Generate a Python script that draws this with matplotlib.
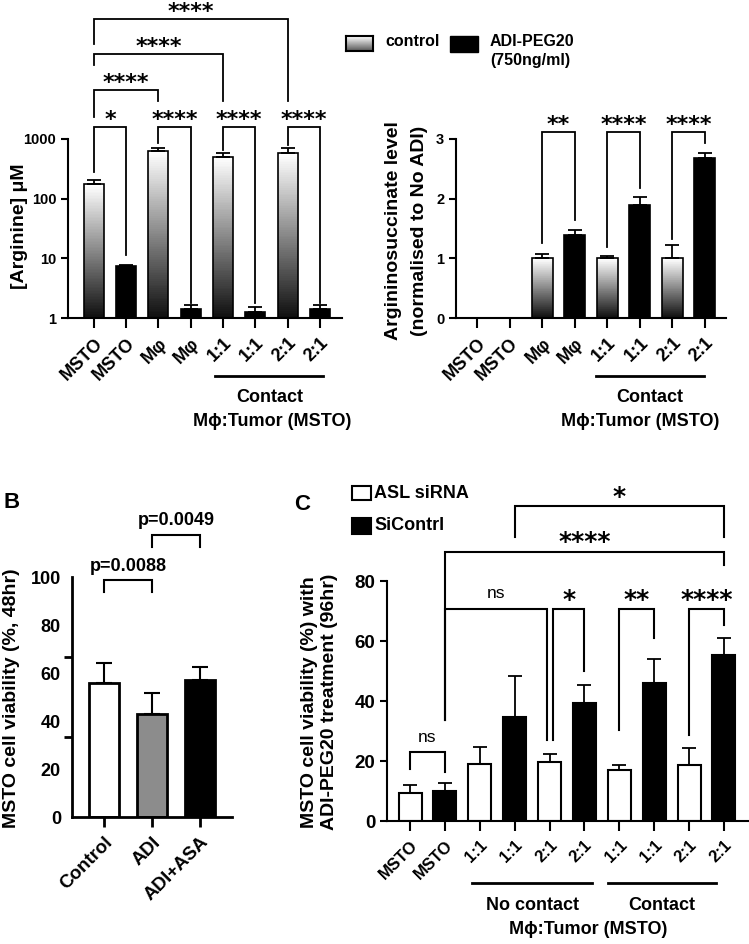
import numpy as np
import matplotlib
matplotlib.use('Agg')
import matplotlib.pyplot as plt
from matplotlib import font_manager
from matplotlib.patches import Rectangle
from matplotlib.lines import Line2D

plt.rcParams['font.family'] = ['Liberation Sans', 'DejaVu Sans']
plt.rcParams['font.weight'] = 'bold'

installed = {f.name for f in font_manager.fontManager.ttflist}
NARROW = 'Liberation Sans Narrow' if 'Liberation Sans Narrow' in installed else 'Liberation Sans'
STAR = 'DejaVu Sans'

W, H = 749, 944

# ---- data ----
# A, left: arginine (uM), control / ADI-PEG20 pairs
arg_labels = ['MSTO', 'MSTO', 'Mφ', 'Mφ', '1:1', '1:1', '2:1', '2:1']
arg_ctrl = [175, 630, 505, 575]
arg_ctrl_err = [30, 85, 70, 125]
arg_adi = [7.3, 1.4, 1.28, 1.4]
arg_adi_err = [0.45, 0.25, 0.23, 0.22]

# A, right: argininosuccinate normalised to no ADI
asa_labels = ['MSTO', 'MSTO', 'Mφ', 'Mφ', '1:1', '1:1', '2:1', '2:1']
asa_ctrl = [0, 1.0, 1.0, 1.0]
asa_ctrl_err = [0, 0.08, 0.04, 0.23]
asa_adi = [0, 1.39, 1.9, 2.68]
asa_adi_err = [0, 0.09, 0.13, 0.08]

# B: MSTO viability 48hr
b_labels = ['Control', 'ADI', 'ADI+ASA']
b_vals = [55.7, 42.8, 57.1]
b_err = [8.3, 8.7, 5.3]
b_colors = ['white', '#8c8c8c', 'black']

# C: MSTO viability with ADI-PEG20 96hr
c_labels = ['MSTO', 'MSTO', '1:1', '1:1', '2:1', '2:1', '1:1', '1:1', '2:1', '2:1']
c_asl = [9.3, 19.0, 19.7, 17.0, 18.7]
c_asl_err = [2.7, 5.7, 2.8, 1.7, 5.6]
c_sic = [10.0, 34.7, 39.3, 46.0, 55.3]
c_sic_err = [2.8, 13.8, 6.0, 8.0, 5.6]

fig = plt.figure(figsize=(W / 100, H / 100), dpi=100)


def add_axes(l, t, r, b):
    return fig.add_axes([l / W, 1 - b / H, (r - l) / W, (b - t) / H])


def ftext(x, y, s, **kw):
    fig.text(x / W, 1 - y / H, s, **kw)


def fline(x1, x2, y, lw=2.0):
    fig.add_artist(Line2D([x1 / W, x2 / W], [1 - y / H, 1 - y / H], color='k', lw=lw))


def style(ax, lw=1.5):
    for s in ['top', 'right']:
        ax.spines[s].set_visible(False)
    for s in ['left', 'bottom']:
        ax.spines[s].set_linewidth(lw)
    ax.tick_params(width=lw, length=5, direction='out')


def bracket(ax, x1, x2, y, y1, y2, label, dy=1, size=16, family=STAR,
            weight='bold', lw=1.3):
    ax.plot([x1, x1, x2, x2], [y1, y, y, y2], color='k', lw=lw, clip_on=False,
            solid_joinstyle='miter', zorder=5)
    ax.annotate(label, xy=((x1 + x2) / 2, y), xytext=(0, dy * 0.72),
                textcoords='offset points', ha='center', va='baseline',
                fontsize=size, family=family, weight=weight, annotation_clip=False)


def gradient_bar(ax, x, v, width, log=False, n=90):
    if v <= 0:
        return
    edges = np.geomspace(1, v, n + 1) if log else np.linspace(0, v, n + 1)
    shades = plt.cm.gray(np.linspace(0.06, 1.0, n))
    ax.bar(np.full(n, x), np.diff(edges), width, bottom=edges[:-1],
           color=shades, linewidth=0, antialiased=False, zorder=1)


# ---------------- A left ----------------
ax1 = add_axes(68, 139, 342, 318)
style(ax1)
ax1.set_yscale('log')
ax1.set_ylim(1, 1000)
ax1.set_xlim(-0.80, 7.68)
xc = np.arange(0, 8, 2)
xa = xc + 1
bw = 0.62
for x, v in zip(xc, arg_ctrl):
    gradient_bar(ax1, x, v, bw, log=True)
ax1.bar(xc, np.array(arg_ctrl) - 1, bw, bottom=1, facecolor='none', edgecolor='k', lw=1.2, zorder=2)
ax1.bar(xa, np.array(arg_adi) - 1, bw, bottom=1, facecolor='k', edgecolor='k', lw=1.2, zorder=2)
ax1.errorbar(xc, arg_ctrl, yerr=[np.zeros(4), arg_ctrl_err], fmt='none', ecolor='k',
             elinewidth=1.3, capsize=5, capthick=1.3, zorder=3)
ax1.errorbar(xa, arg_adi, yerr=[np.zeros(4), arg_adi_err], fmt='none', ecolor='k',
             elinewidth=1.3, capsize=5, capthick=1.3, zorder=3)
ax1.set_yticks([1, 10, 100, 1000])
ax1.set_yticklabels(['1', '10', '100', '1000'], fontsize=10.5)
ax1.yaxis.set_minor_locator(matplotlib.ticker.NullLocator())
ax1.set_xticks(range(8))
ax1.set_xticklabels(arg_labels, rotation=45, ha='right', rotation_mode='anchor', fontsize=13)
ax1.tick_params(axis='x', length=7, pad=5)

bracket(ax1, 0, 1, 1588, 280, 11.4, '*')
bracket(ax1, 2, 3, 1588, 860, 1.8, '****')
bracket(ax1, 4, 5, 1588, 650, 1.8, '****')
bracket(ax1, 6, 7, 1588, 790, 1.8, '****')
bracket(ax1, 0, 2, 6620, 2337, 4333, '****')
bracket(ax1, 0, 4, 26560, 17380, 4333, '****')
bracket(ax1, 0, 6, 102500, 39080, 4333, '****')

ftext(20, 226, '[Arginine] μM', rotation=90, ha='center', va='center', fontsize=14)
fline(215, 323, 376)
ftext(270, 397, 'Contact', ha='center', va='center', fontsize=13)
ftext(272, 422, 'Mϕ:Tumor (MSTO)', ha='center', va='center', fontsize=13)

# ---------------- A right ----------------
ax2 = add_axes(456, 139, 726, 318)
style(ax2)
ax2.set_ylim(0, 3)
ax2.set_xlim(-0.645, 7.645)
bw2 = 0.645
for x, v in zip(xc, asa_ctrl):
    gradient_bar(ax2, x, v, bw2)
ax2.bar(xc, asa_ctrl, bw2, facecolor='none', edgecolor='k', lw=1.2, zorder=2)
ax2.bar(xa, asa_adi, bw2, facecolor='k', edgecolor='k', lw=1.2, zorder=2)
mask = np.array(asa_ctrl) > 0
ax2.errorbar(xc[mask], np.array(asa_ctrl)[mask], yerr=[np.zeros(mask.sum()), np.array(asa_ctrl_err)[mask]],
             fmt='none', ecolor='k', elinewidth=1.3, capsize=5, capthick=1.3, zorder=3)
ax2.errorbar(xa[mask], np.array(asa_adi)[mask], yerr=[np.zeros(mask.sum()), np.array(asa_adi_err)[mask]],
             fmt='none', ecolor='k', elinewidth=1.3, capsize=5, capthick=1.3, zorder=3)
ax2.set_yticks([0, 1, 2, 3])
ax2.set_yticklabels(['0', '1', '2', '3'], fontsize=10.5)
ax2.set_xticks(range(8))
ax2.set_xticklabels(asa_labels, rotation=45, ha='right', rotation_mode='anchor', fontsize=13)
ax2.tick_params(axis='x', length=7, pad=5)

bracket(ax2, 2, 3, 3.117, 1.257, 1.64, '**')
bracket(ax2, 4, 5, 3.117, 1.19, 2.18, '****')
bracket(ax2, 6, 7, 3.117, 1.32, 2.93, '****')

ftext(393, 231, 'Argininosuccinate level', rotation=90, ha='center', va='center', fontsize=14)
ftext(420, 231, '(normalised to No ADI)', rotation=90, ha='center', va='center', fontsize=14)
fline(596, 704, 376)
ftext(650, 398, 'Contact', ha='center', va='center', fontsize=13)
ftext(640, 422, 'Mϕ:Tumor (MSTO)', ha='center', va='center', fontsize=13)

# legend A
lg = fig.add_axes([346 / W, 1 - 51 / H, 27 / W, 15 / H])
lg.imshow(np.linspace(1.0, 0.35, 20)[:, None], cmap='gray', vmin=0, vmax=1, aspect='auto')
lg.set_xticks([])
lg.set_yticks([])
for s in lg.spines.values():
    s.set_linewidth(1.5)
fig.add_artist(Rectangle((450 / W, 1 - 52 / H), 28 / W, 16 / H, transform=fig.transFigure,
                         facecolor='k', edgecolor='k'))
ftext(385, 42, 'control', ha='left', va='center', fontsize=11.5, family=NARROW)
ftext(490, 42, 'ADI-PEG20', ha='left', va='center', fontsize=11.5, family=NARROW)
ftext(490, 60, '(750ng/ml)', ha='left', va='center', fontsize=11.5, family=NARROW)

# ---------------- B ----------------
axb = add_axes(72, 577, 232, 817)
style(axb, lw=2)
axb.set_ylim(0, 100)
axb.set_xlim(-0.667, 2.667)
axb.bar(range(3), b_vals, 0.625, color=b_colors, edgecolor='k', lw=2, zorder=2)
axb.errorbar(range(3), b_vals, yerr=[np.zeros(3), b_err], fmt='none', ecolor='k',
             elinewidth=1.5, capsize=6, capthick=1.5, zorder=1)
axb.set_yticks([0, 20, 40, 60, 80, 100])
axb.set_yticklabels(['0', '20', '40', '60', '80', '100'], fontsize=13)
axb.tick_params(axis='y', which='major', length=0, pad=8)
axb.set_yticks([0, 100 / 3, 200 / 3, 100], minor=True)
axb.tick_params(axis='y', which='minor', length=6, width=2)
axb.set_xticks(range(3))
axb.set_xticklabels(b_labels, rotation=45, ha='right', rotation_mode='anchor', fontsize=13.5)
axb.tick_params(axis='x', length=7, pad=5)
bracket(axb, 0, 1, 98.75, 93.75, 93.75, 'p=0.0088', dy=9, size=13,
        family='Liberation Sans', lw=1.5)
bracket(axb, 1, 2, 117.5, 112.5, 112.5, 'p=0.0049', dy=10, size=13,
        family='Liberation Sans', lw=1.5)
ftext(12, 698, 'MSTO cell viability (%, 48hr)', rotation=90, ha='center', va='center', fontsize=14)
ftext(12, 503, 'B', ha='center', va='center', fontsize=16)

# ---------------- C ----------------
axc = add_axes(387, 581, 748, 821)
style(axc)
axc.set_ylim(0, 80)
axc.set_xlim(-0.66, 9.69)
xw = np.arange(0, 10, 2)
xb = xw + 1
bw3 = 0.66
axc.bar(xw, c_asl, bw3, facecolor='white', edgecolor='k', lw=1.5, zorder=2)
axc.bar(xb, c_sic, bw3, facecolor='k', edgecolor='k', lw=1.5, zorder=2)
axc.errorbar(xw, c_asl, yerr=[np.zeros(5), c_asl_err], fmt='none', ecolor='k',
             elinewidth=1.3, capsize=5, capthick=1.3, zorder=1)
axc.errorbar(xb, c_sic, yerr=[np.zeros(5), c_sic_err], fmt='none', ecolor='k',
             elinewidth=1.3, capsize=5, capthick=1.3, zorder=1)
axc.set_yticks([0, 20, 40, 60, 80])
axc.set_yticklabels(['0', '20', '40', '60', '80'], fontsize=13.5)
axc.set_xticks(range(10))
axc.set_xticklabels(c_labels, rotation=45, ha='right', rotation_mode='anchor', fontsize=12)
axc.tick_params(axis='x', length=7, pad=5)

bracket(axc, 0, 1, 23, 17.3, 16.3, 'ns', dy=10, size=12.5, family='Liberation Sans',
        weight='normal', lw=1.5)
bracket(axc, 1, 3.92, 70.7, 33.7, 27, 'ns', dy=11, size=12.5, family='Liberation Sans',
        weight='normal', lw=1.5)
bracket(axc, 4.1, 5, 70.7, 27, 50, '*', dy=2, size=18, lw=1.5)
bracket(axc, 6, 7, 70.7, 30.3, 61, '**', dy=2, size=18, lw=1.5)
bracket(axc, 8, 9, 70.7, 28.7, 65.3, '****', dy=2, size=18, lw=1.5)
bracket(axc, 1, 9, 89.7, 33.7, 85.3, '****', dy=3, size=18, lw=1.5)
bracket(axc, 3, 9, 105, 94.7, 94.7, '*', dy=2, size=18, lw=1.5)

ftext(310, 702, 'MSTO cell viability (%) with', rotation=90, ha='center', va='center', fontsize=14)
ftext(330, 702, 'ADI-PEG20 treatment (96hr)', rotation=90, ha='center', va='center', fontsize=14)
ftext(302, 505, 'C', ha='center', va='center', fontsize=16)

fig.add_artist(Rectangle((352 / W, 1 - 500 / H), 19 / W, 14 / H, transform=fig.transFigure,
                         facecolor='white', edgecolor='k', lw=1.5))
fig.add_artist(Rectangle((352 / W, 1 - 534 / H), 19 / W, 16 / H, transform=fig.transFigure,
                         facecolor='k', edgecolor='k', lw=1.5))
ftext(374, 493, 'ASL siRNA', ha='left', va='center', fontsize=13, family=NARROW)
ftext(374, 526, 'SiContrl', ha='left', va='center', fontsize=13, family=NARROW)

fline(472, 592, 883)
fline(608, 716, 883)
ftext(533, 905, 'No contact', ha='center', va='center', fontsize=13)
ftext(662, 905, 'Contact', ha='center', va='center', fontsize=13)
ftext(588, 929, 'Mϕ:Tumor (MSTO)', ha='center', va='center', fontsize=13)

fig.savefig('out.png', dpi=100)
